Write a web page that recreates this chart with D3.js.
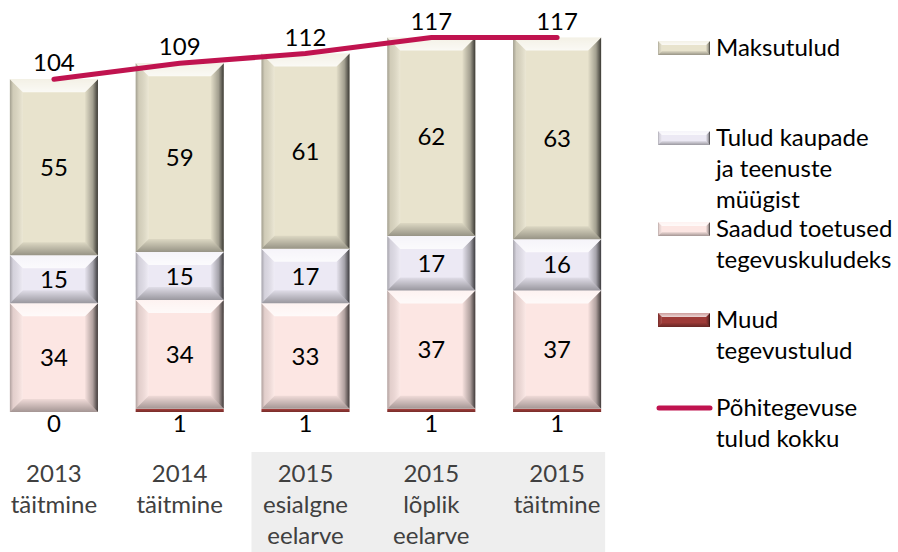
<!DOCTYPE html>
<html>
<head>
<meta charset="utf-8">
<script src="https://cdn.jsdelivr.net/npm/d3@7"></script>
<style>
  body { margin: 0; background: #fff; }
  svg { display: block; font-family: Lato, "Open Sans", sans-serif; }
</style>
</head>
<body>
<svg id="chart"></svg>
<script>
var categories = [
  ["2013", "täitmine"],
  ["2014", "täitmine"],
  ["2015", "esialgne", "eelarve"],
  ["2015", "lõplik", "eelarve"],
  ["2015", "täitmine"]
];
var muud = [0, 1, 1, 1, 1];
var toetused = [34, 34, 33, 37, 37];
var kaubad = [15, 15, 17, 17, 16];
var maksud = [55, 59, 61, 62, 63];
var kokku = [104, 109, 112, 117, 117];

var seriesNames = ["Muud\ntegevustulud", "Saadud toetused\ntegevuskuludeks", "Tulud kaupade\nja teenuste\nmüügist", "Maksutulud"];
var seriesColors = ["#9e3b38", "#fce6e3", "#ece9f4", "#e8e3cd"];
var lineName = "Põhitegevuse\ntulud kokku";

var svgWidth = 898, svgHeight = 552;
var fontSize = 24;

var svg = d3.select("#chart")
  .attr("width", svgWidth)
  .attr("height", svgHeight);

var idx = d3.range(categories.length);

var xScale = d3.scaleBand()
  .domain(idx)
  .range([-9, 620])
  .paddingInner(0.3)
  .paddingOuter(0.15);

var yScale = d3.scaleLinear()
  .domain([0, 117])
  .range([412, 37.6]);

// gradients for the bevel look
var defs = svg.append("defs");
function grad(id, x2, y2, stops) {
  var g = defs.append("linearGradient").attr("id", id)
    .attr("x1", 0).attr("y1", 0).attr("x2", x2).attr("y2", y2);
  stops.forEach(function(s) {
    g.append("stop").attr("offset", s[0]).attr("stop-color", s[1]).attr("stop-opacity", s[2]);
  });
}
grad("gRight", 1, 0, [[0, "#000", 0.02], [0.6, "#000", 0.3], [1, "#000", 0.75]]);
grad("gLeft", 1, 0, [[0, "#000", 0.3], [0.25, "#000", 0.1], [1, "#fff", 0.15]]);
grad("gBottom", 0, 1, [[0, "#000", 0.05], [1, "#000", 0.35]]);
grad("gTop", 0, 1, [[0, "#fff", 0.5], [1, "#fff", 0.8]]);

function bevelBox(g, x, y, w, h, color, b) {
  g.append("rect").attr("x", x).attr("y", y).attr("width", w).attr("height", h).attr("fill", color);
  if (h < 6) {
    g.append("rect").attr("x", x).attr("y", y + h / 2).attr("width", w).attr("height", h / 2)
      .attr("fill", "#000").attr("opacity", 0.2);
    return;
  }
  b = Math.min(b, h / 2, w / 2);
  function poly(pts, fill) {
    g.append("polygon").attr("points", pts.map(function(p) { return p.join(","); }).join(" ")).attr("fill", fill);
  }
  poly([[x, y], [x + b, y + b], [x + b, y + h - b], [x, y + h]], "url(#gLeft)");
  poly([[x + w, y], [x + w, y + h], [x + w - b, y + h - b], [x + w - b, y + b]], "url(#gRight)");
  poly([[x, y + h], [x + w, y + h], [x + w - b, y + h - b], [x + b, y + h - b]], "url(#gBottom)");
  poly([[x, y], [x + w, y], [x + w - b, y + b], [x + b, y + b]], "url(#gTop)");
}

// grey band behind the 2015 labels
svg.append("rect")
  .attr("x", xScale(2) - 10).attr("y", 452)
  .attr("width", xScale(4) + xScale.bandwidth() + 4 - (xScale(2) - 10))
  .attr("height", 100)
  .attr("fill", "#eeeeee");

var stack = [muud, toetused, kaubad, maksud];
var bars = svg.append("g");
idx.forEach(function(i) {
  var base = 0;
  stack.forEach(function(arr, s) {
    var v = arr[i];
    if (v > 0) {
      var y0 = yScale(base), y1 = yScale(base + v);
      bevelBox(bars, xScale(i), y1, xScale.bandwidth(), y0 - y1, seriesColors[s], 13);
      if (s > 0) {
        bars.append("text")
          .attr("x", xScale(i) + xScale.bandwidth() / 2)
          .attr("y", (y0 + y1) / 2 + 8.5)
          .attr("text-anchor", "middle")
          .attr("font-size", fontSize)
          .attr("fill", "#000")
          .text(v);
      }
    }
    base += v;
  });
  // bottom "muud" labels
  bars.append("text")
    .attr("x", xScale(i) + xScale.bandwidth() / 2)
    .attr("y", yScale(0) + 20)
    .attr("text-anchor", "middle")
    .attr("font-size", fontSize)
    .attr("fill", "#000")
    .text(muud[i]);
});

// total line
var line = d3.line()
  .x(function(d, i) { return xScale(i) + xScale.bandwidth() / 2; })
  .y(function(d) { return yScale(d); });

svg.append("path")
  .datum(kokku)
  .attr("d", line)
  .attr("fill", "none")
  .attr("stroke", "#c0134f")
  .attr("stroke-width", 5)
  .attr("stroke-linecap", "round");

svg.selectAll(".total")
  .data(kokku)
  .enter()
  .append("text")
  .attr("class", "total")
  .attr("x", function(d, i) { return xScale(i) + xScale.bandwidth() / 2; })
  .attr("y", function(d) { return yScale(d) - 8; })
  .attr("text-anchor", "middle")
  .attr("font-size", fontSize)
  .text(function(d) { return d; });

// category labels
svg.selectAll(".cat")
  .data(categories)
  .enter()
  .append("text")
  .attr("class", "cat")
  .attr("text-anchor", "middle")
  .attr("font-size", fontSize)
  .attr("fill", "#404040")
  .each(function(d, i) {
    var t = d3.select(this);
    d.forEach(function(s, k) {
      t.append("tspan")
        .attr("x", xScale(i) + xScale.bandwidth() / 2)
        .attr("y", 482 + k * 31)
        .text(s);
    });
  });

// legend
var legend = svg.append("g");
var legendItems = [
  { name: seriesNames[3], color: seriesColors[3], y: 48 },
  { name: seriesNames[2], color: seriesColors[2], y: 138 },
  { name: seriesNames[1], color: seriesColors[1], y: 229 },
  { name: seriesNames[0], color: seriesColors[0], y: 320 },
  { name: lineName, line: true, y: 408 }
];
legendItems.forEach(function(it) {
  if (it.line) {
    legend.append("line")
      .attr("x1", 659).attr("x2", 710)
      .attr("y1", it.y).attr("y2", it.y)
      .attr("stroke", "#c0134f").attr("stroke-width", 5)
      .attr("stroke-linecap", "round");
  } else {
    bevelBox(legend, 658, it.y - 7, 52, 14, it.color, 4);
  }
  var t = legend.append("text")
    .attr("font-size", fontSize)
    .attr("fill", "#000");
  it.name.split("\n").forEach(function(s, k) {
    t.append("tspan").attr("x", 716).attr("y", it.y + 8 + k * 31).text(s);
  });
});
</script>
</body>
</html>
